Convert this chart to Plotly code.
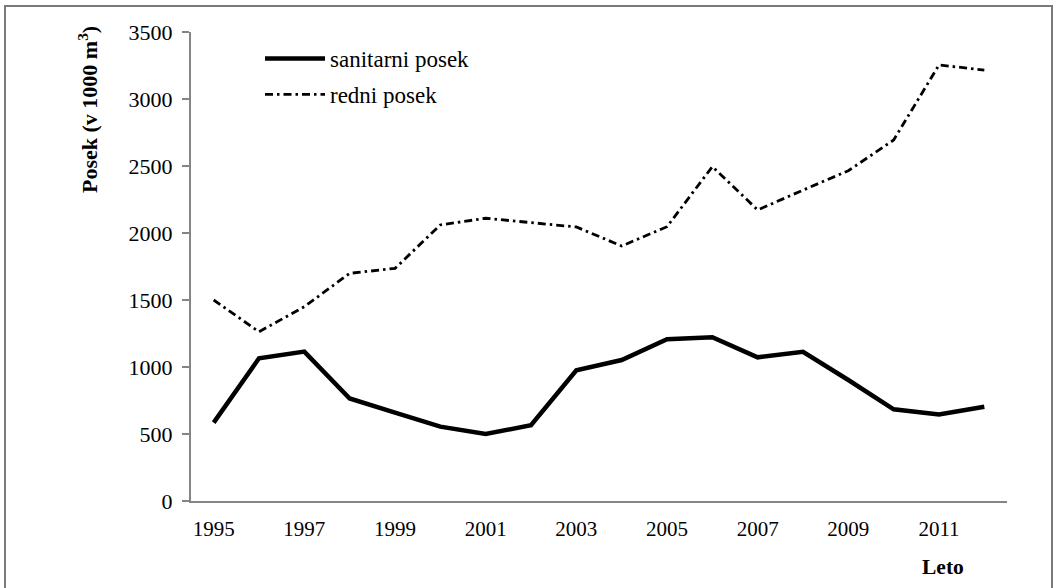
import plotly.graph_objects as go

years = list(range(1995, 2013))
sanitarni = [585, 1065, 1115, 765, 660, 555, 500, 565, 975, 1052, 1207, 1222, 1072, 1114, 903, 684, 645, 704]
redni = [1500, 1263, 1450, 1699, 1736, 2060, 2110, 2077, 2045, 1903, 2047, 2495, 2172, 2320, 2465, 2694, 3254, 3216]

name_san = "sanitarni posek"
name_red = "redni posek"
y_title = "Posek (v 1000 m<sup>3</sup>)"
x_title = "Leto"

FONT = "Liberation Serif, Times New Roman, serif"
AX = "#858585"

fig = go.Figure()
fig.add_trace(go.Scatter(x=years, y=sanitarni, mode="lines", name=name_san, legendgroup="a",
                         line=dict(color="black", width=4.5)))
fig.add_trace(go.Scatter(x=years, y=redni, mode="lines", name=name_red, legendgroup="b",
                         line=dict(color="black", width=2.8, dash="8px,4px,2.5px,4px")))

W, H = 1057, 588
L, R, T, B = 191, 50, 32, 87
pw, ph = W - L - R, H - T - B

def px2paper_x(px):
    return (px - L) / pw

def px2paper_y(py):
    return (H - B - py) / ph

fig.update_layout(
    width=W, height=H,
    margin=dict(l=L, r=R, t=T, b=B),
    paper_bgcolor="white", plot_bgcolor="white",
    font=dict(family=FONT, size=21, color="black"),
    showlegend=True,
    legend=dict(x=px2paper_x(260), y=px2paper_y(37), xanchor="left", yanchor="top",
                bgcolor="rgba(0,0,0,0)", font=dict(size=23, family=FONT),
                tracegroupgap=3, itemwidth=60),
    xaxis=dict(range=[1994.5, 2012.5], tickmode="linear", tick0=1995, dtick=2,
               showgrid=False, zeroline=False, showline=True, linecolor=AX, linewidth=2,
               ticks="", tickfont=dict(size=21, family=FONT), ticklabelstandoff=8),
    yaxis=dict(range=[0, 3500], tickmode="linear", tick0=0, dtick=500,
               showgrid=False, zeroline=False, showline=True, linecolor=AX, linewidth=2,
               ticks="outside", ticklen=7, tickcolor=AX, tickwidth=2,
               tickfont=dict(size=22, family=FONT), ticklabelstandoff=5),
    annotations=[
        dict(text="<b>" + y_title + "</b>", xref="paper", yref="paper",
             x=px2paper_x(88), y=px2paper_y(110), textangle=-90, showarrow=False,
             font=dict(size=22, family=FONT), xanchor="center", yanchor="middle"),
        dict(text="<b>" + x_title + "</b>", xref="paper", yref="paper",
             x=px2paper_x(943), y=px2paper_y(567), showarrow=False,
             font=dict(size=21.5, family=FONT), xanchor="center", yanchor="middle"),
    ],
    shapes=[
        dict(type="rect", xref="paper", yref="paper",
             x0=px2paper_x(5), x1=px2paper_x(1052), y0=px2paper_y(600), y1=px2paper_y(6),
             line=dict(color="#7a7a7a", width=2), fillcolor="rgba(0,0,0,0)", layer="below"),
    ],
)

fig.write_html("out.html", config={"displayModeBar": False},
               post_script="document.body.style.margin='0';document.body.style.padding='0';")
